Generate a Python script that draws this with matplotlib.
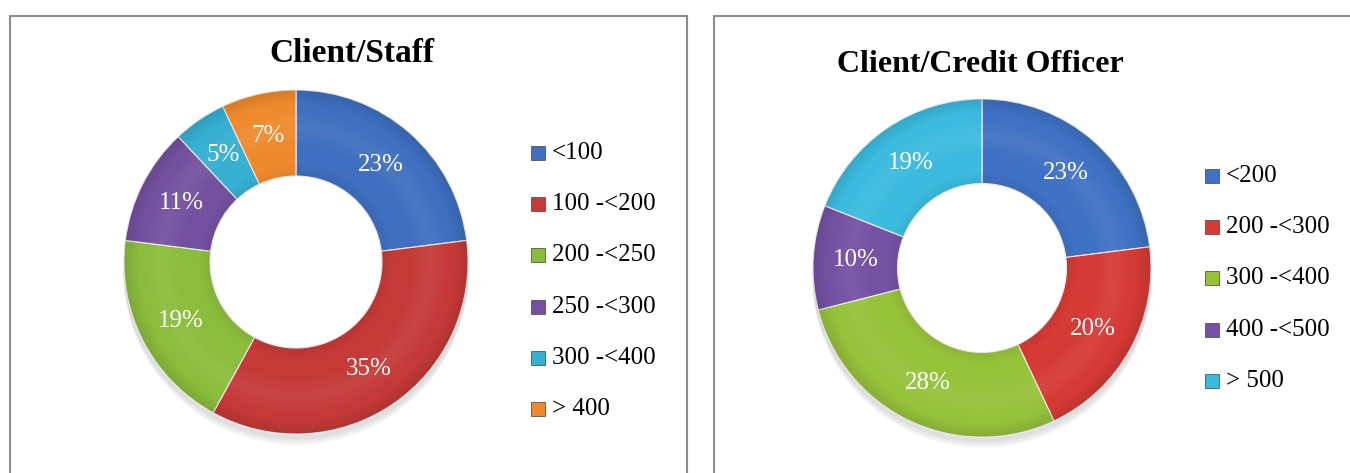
import matplotlib.pyplot as plt
from matplotlib.patches import Rectangle, Wedge

# data
staff_labels = ['<100', '100 -<200', '200 -<250', '250 -<300', '300 -<400', '> 400']
staff_values = [23, 35, 19, 11, 5, 7]
staff_colors = ['#3f6fc0', '#c53a37', '#8bbd3c', '#7451a0', '#35afd2', '#ef8a2c']

officer_labels = ['<200', '200 -<300', '300 -<400', '400 -<500', '> 500']
officer_values = [23, 20, 28, 10, 19]
officer_colors = ['#3f72c4', '#d63a35', '#96c23a', '#7452a3', '#3bbbdf']

W, H = 1350, 473
plt.rcParams['font.family'] = ['Liberation Serif', 'DejaVu Serif']

fig = plt.figure(figsize=(W / 100, H / 100), dpi=100)
fig.patch.set_facecolor('white')


def fx(px):
    return px / W


def fy(py):
    return 1 - py / H


def ring(ax, r_out, w, color, alpha):
    ax.add_patch(Wedge((0, 0), r_out, 0, 360, width=w, facecolor=color,
                       alpha=alpha, linewidth=0, zorder=3, clip_on=False))


def donut(cx, cy, r, values, colors):
    ax = fig.add_axes([fx(cx - r), fy(cy + r), fx(2 * r), 2 * r / H])
    # soft shadow under the ring
    for k in range(6):
        sh = plt.Circle((0, -0.02 - 0.008 * k), 1.0, color='#606060', alpha=0.03,
                        zorder=0, clip_on=False)
        ax.add_patch(sh)
    ax.add_patch(plt.Circle((0, 0), 0.5, color='white', zorder=1, clip_on=False))
    wedges, texts, autotexts = ax.pie(
        values, colors=colors, startangle=90, counterclock=False,
        radius=1.0, autopct='%d%%', pctdistance=0.75,
        wedgeprops=dict(width=0.5, edgecolor='#eeeeee', linewidth=0.8, clip_on=False),
        textprops=dict(color='white', fontsize=18))
    # bevel-like shading, built from thin translucent rings
    for k in range(8):
        ring(ax, 1.0 - 0.01 * k, 0.01, 'black', 0.025 * (8 - k) / 2)
    for k in range(6):
        ring(ax, 0.51 + 0.01 * k, 0.01, 'black', 0.02 * (6 - k) / 2)
    for k in range(10):
        ring(ax, 0.88 - 0.02 * k, 0.02, 'white', 0.012 * min(k + 1, 10 - k))
    for t in autotexts:
        t.set_zorder(5)
    ax.set_xlim(-1, 1)
    ax.set_ylim(-1, 1)
    ax.set_aspect('equal')
    ax.axis('off')
    return wedges


def legend(x, y0, labels, colors):
    pitch = 51.2
    for i, (lab, col) in enumerate(zip(labels, colors)):
        y = y0 + i * pitch
        fig.patches.append(Rectangle((fx(x), fy(y + 7)), fx(14), 14 / H,
                                     transform=fig.transFigure, facecolor=col,
                                     edgecolor='#555555', linewidth=0.6))
        fig.text(fx(x + 21), fy(y), lab, fontsize=18, va='center', ha='left', color='black')


# panel frames
fig.patches.append(Rectangle((fx(10), fy(480)), fx(677), (480 - 16) / H,
                             transform=fig.transFigure, fill=False,
                             edgecolor='#8c8c8c', linewidth=1.5))
fig.patches.append(Rectangle((fx(714), fy(480)), fx(660), (480 - 16) / H,
                             transform=fig.transFigure, fill=False,
                             edgecolor='#8c8c8c', linewidth=1.5))

# left chart
donut(296, 262, 172, staff_values, staff_colors)
fig.text(fx(352), fy(62), 'Client/Staff', fontsize=24, fontweight='bold',
         ha='center', va='baseline')
legend(531, 153, staff_labels, staff_colors)

# right chart
donut(982, 268, 169, officer_values, officer_colors)
fig.text(fx(980), fy(72), 'Client/Credit Officer', fontsize=23, fontweight='bold',
         ha='center', va='baseline')
legend(1205, 176, officer_labels, officer_colors)

plt.savefig('out.png', dpi=100)
